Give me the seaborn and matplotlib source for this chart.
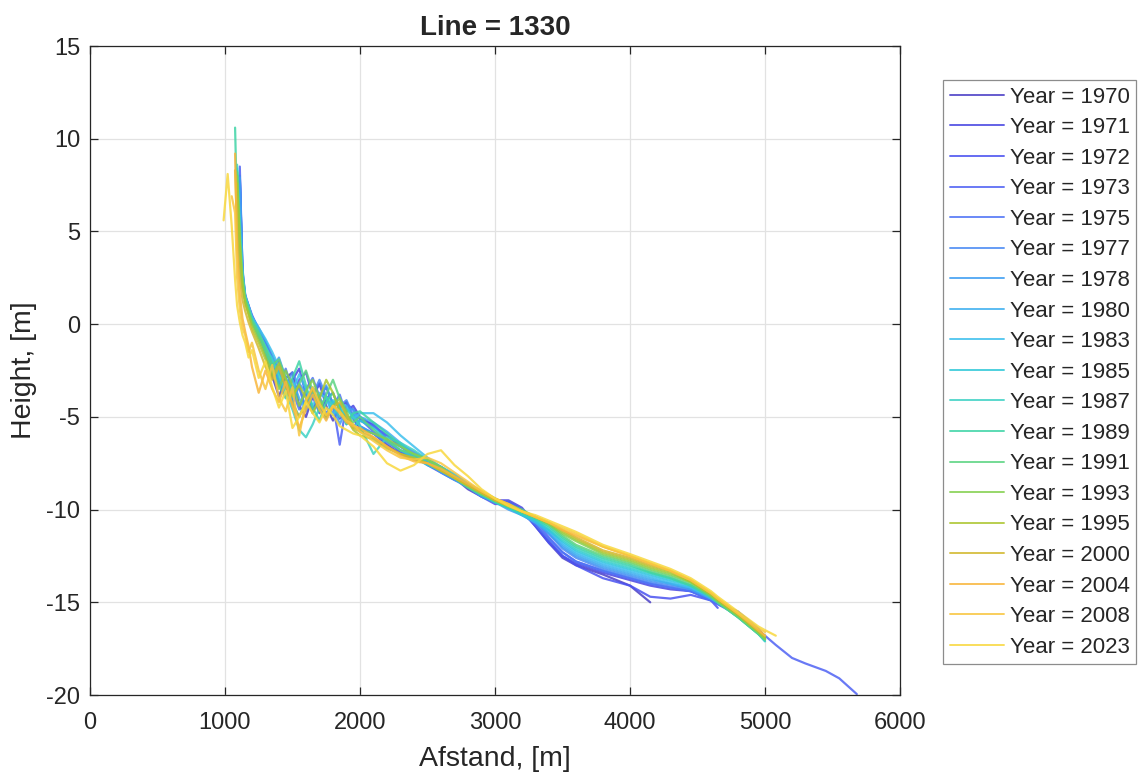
import numpy as np
import pandas as pd
import matplotlib
matplotlib.use("Agg")
import matplotlib.pyplot as plt
import seaborn as sns

nan = np.nan

# Cross-shore distance grid [m]
distance = [990, 1020, 1050, 1075, 1090, 1110, 1130, 1150, 1175, 1200,
            1250, 1300, 1350, 1400, 1450, 1500, 1550, 1600, 1650, 1700,
            1750, 1800, 1850, 1900, 1950, 2000, 2100, 2200, 2300, 2400,
            2500, 2600, 2700, 2800, 2900, 3000, 3100, 3200, 3300, 3400,
            3500, 3600, 3800, 4000, 4150, 4300, 4450, 4600, 4650, 4800,
            4950, 5000, 5080, 5200, 5300, 5450, 5550, 5680]

years = [1970, 1971, 1972, 1973, 1975, 1977, 1978, 1980, 1983, 1985,
         1987, 1989, 1991, 1993, 1995, 2000, 2004, 2008, 2023]

# Surveyed heights [m] along the distance grid (nan = not surveyed)
h1970 = [nan, nan, nan, nan, nan, 7.2, 2.4, 1.4, 0.9, 0.3,
         -0.5, -1.6, -2.8, -3.9, -2.9, -2.6, -4.4, -5.0, -3.9, -3.2,
         -4.4, -5.2, -4.5, -4.2, -5.1, -5.6, -5.9, -6.5, -7.0, -7.3,
         -7.5, -7.8, -8.3, -8.9, -9.3, -9.6, -9.6, -10.0, -10.9, -11.8,
         -12.6, -13.0, -13.5, -14.1, -15.0]
h1971 = [nan, nan, nan, nan, nan, 8.0, 2.6, 1.5, 1.0, 0.4,
         -0.3, -1.0, -1.8, -3.1, -3.9, -3.0, -2.4, -3.8, -4.6, -3.9,
         -3.4, -4.3, -5.1, -4.7, -4.4, -5.0, -5.5, -6.0, -6.6, -7.1,
         -7.6, -8.0, -8.4, -8.7, -9.1, -9.5, -9.5, -9.9, -10.8, -11.7,
         -12.5, -12.9, -13.4, -13.8, -14.1, -14.3, -14.4, -14.8, -15.0, -15.5,
         -16.4, -16.9]
h1972 = [nan, nan, nan, nan, nan, 7.8, 2.2, 1.3, 0.7, 0.2,
         -0.7, -1.4, -2.3, -2.0, -3.3, -4.2, -3.0, -2.6, -3.9, -4.8,
         -4.0, -3.7, -4.6, -5.2, -4.9, -5.1, -5.4, -6.2, -6.9, -7.3,
         -7.4, -7.7, -8.2, -8.8, -9.3, -9.7, -9.7, -10.1, -10.9, -11.8,
         -12.5, -13.0, -13.7, -14.1, -14.7, -14.8, -14.6, -14.9, -15.3]
h1973 = [nan, nan, nan, nan, nan, 8.5, 2.8, 1.6, 1.0, 0.5,
         -0.3, -1.1, -1.9, -2.6, -3.2, -4.3, -3.3, -4.6, -3.9, -3.2,
         -4.1, -4.3, -6.5, -4.3, -4.6, -5.1, -5.8, -6.3, -6.9, -7.2,
         -7.5, -7.9, -8.2, -8.6, -9.1, -9.5, -9.6, -10.0, -10.6, -11.5,
         -12.3, -12.8, -13.3, -13.7, -14.0, -14.2, -14.4, -14.9, -15.1, -15.6,
         -16.5, -16.8, -17.3, -18.0, -18.3, -18.7, -19.1, -19.95]
h1975 = [nan, nan, nan, nan, nan, 7.6, 2.5, 1.4, 0.9, 0.3,
         -0.4, -1.2, -2.0, -3.3, -2.4, -3.6, -4.6, -3.5, -2.9, -3.9,
         -4.8, -4.4, -3.8, -4.9, -5.5, -5.2, -5.5, -6.0, -6.5, -6.9,
         -7.3, -7.7, -8.2, -8.6, -9.1, -9.5, -9.8, -10.2, -10.8, -11.6,
         -12.3, -12.8, -13.3, -13.7, -14.0, -14.2, -14.4, -14.9, -15.1, -15.7,
         -16.6, -17.0]
h1977 = [nan, nan, nan, nan, nan, 8.0, 3.0, 1.5, 0.9, 0.4,
         -0.2, -0.9, -1.7, -2.4, -3.4, -2.6, -3.4, -4.7, -3.8, -3.0,
         -3.9, -4.9, -4.4, -4.1, -4.9, -5.5, -5.9, -6.4, -6.8, -7.1,
         -7.4, -7.7, -8.2, -8.7, -9.1, -9.5, -9.8, -10.2, -10.6, -11.3,
         -12.1, -12.6, -13.2, -13.6, -13.9, -14.1, -14.3, -14.8, -15.0, -15.6,
         -16.5, -16.9]
h1978 = [nan, nan, nan, nan, nan, 7.9, 2.9, 1.4, 0.8, 0.3,
         -0.5, -1.3, -2.4, -1.8, -2.9, -4.1, -3.2, -3.7, -4.8, -4.0,
         -3.3, -4.4, -5.4, -4.6, -4.6, -5.5, -5.9, -6.3, -6.6, -7.0,
         -7.5, -8.0, -8.4, -8.8, -9.3, -9.6, -10.0, -10.3, -10.7, -11.3,
         -12.0, -12.5, -13.1, -13.5, -13.8, -14.0, -14.3, -14.8, -15.0, -15.7,
         -16.6, -17.0]
h1980 = [nan, nan, nan, nan, 8.1, 4.5, 2.3, 1.3, 0.7, 0.1,
         -0.6, -1.5, -1.8, -3.0, -3.8, -3.0, -4.0, -4.6, -3.6, -4.6,
         -5.1, -4.2, -4.5, -5.4, -4.9, -5.0, -5.3, -5.8, -6.4, -7.0,
         -7.4, -7.7, -8.1, -8.6, -9.1, -9.5, -9.9, -10.3, -10.7, -11.2,
         -11.9, -12.4, -13.0, -13.4, -13.7, -14.0, -14.2, -14.8, -15.0, -15.7,
         -16.6, -17.0]
h1983 = [nan, nan, nan, nan, 8.4, 5.0, 2.6, 1.5, 1.0, 0.4,
         -0.2, -0.8, -1.5, -2.3, -2.9, -3.6, -2.7, -3.5, -4.4, -3.7,
         -4.0, -4.9, -4.3, -4.4, -5.1, -4.8, -4.8, -5.3, -6.0, -6.6,
         -7.2, -7.7, -8.1, -8.6, -9.0, -9.4, -9.8, -10.2, -10.6, -11.1,
         -11.8, -12.3, -12.9, -13.3, -13.6, -13.9, -14.2, -14.7, -15.0, -15.7,
         -16.6, -17.0]
h1985 = [nan, nan, nan, nan, 8.3, 4.8, 2.4, 1.4, 0.8, 0.2,
         -0.5, -1.2, -2.0, -2.6, -3.4, -4.2, -5.0, -4.1, -3.4, -4.3,
         -5.0, -4.1, -4.4, -5.0, -5.6, -5.2, -5.6, -6.2, -6.8, -7.2,
         -7.6, -7.9, -8.3, -8.7, -9.2, -9.6, -9.9, -10.3, -10.6, -11.1,
         -11.7, -12.2, -12.8, -13.2, -13.5, -13.8, -14.1, -14.7, -15.0, -15.8,
         -16.7, -17.1]
h1987 = [nan, nan, nan, nan, 8.6, 5.5, 2.7, 1.5, 0.9, 0.3,
         -0.4, -1.2, -1.9, -2.8, -3.7, -4.6, -5.7, -6.1, -5.4, -4.5,
         -3.9, -4.4, -5.0, -4.6, -5.0, -5.5, -7.0, -6.1, -6.4, -6.8,
         -7.3, -7.8, -8.3, -8.7, -9.1, -9.4, -9.8, -10.2, -10.5, -11.0,
         -11.6, -12.1, -12.7, -13.1, -13.4, -13.7, -14.1, -14.7, -15.0, -15.8,
         -16.7, -17.1]
h1989 = [nan, nan, nan, 10.6, 6.0, 3.2, 2.0, 1.3, 0.7, 0.1,
         -0.6, -1.5, -2.4, -3.3, -4.0, -2.9, -2.0, -3.3, -4.5, -5.2,
         -4.2, -3.7, -4.6, -5.4, -4.8, -4.7, -5.3, -5.9, -6.5, -7.1,
         -7.5, -7.9, -8.3, -8.8, -9.2, -9.6, -9.9, -10.2, -10.5, -10.9,
         -11.5, -12.0, -12.6, -13.0, -13.4, -13.7, -14.1, -14.7, -15.0, -15.8,
         -16.7, -17.0]
h1991 = [nan, nan, nan, nan, 8.2, 4.8, 2.5, 1.4, 0.8, 0.2,
         -0.5, -1.3, -2.2, -1.9, -2.9, -3.9, -3.2, -2.5, -3.6, -4.7,
         -3.8, -3.0, -4.0, -4.9, -5.3, -5.0, -5.7, -6.3, -6.8, -7.0,
         -7.3, -7.8, -8.3, -8.8, -9.2, -9.5, -9.7, -10.0, -10.4, -10.8,
         -11.4, -11.9, -12.5, -12.9, -13.3, -13.6, -14.0, -14.7, -15.0, -15.8,
         -16.7, -17.0]
h1993 = [nan, nan, nan, nan, 8.0, 4.5, 2.2, 1.2, 0.6, 0.0,
         -0.8, -1.7, -2.6, -3.5, -2.5, -3.3, -4.4, -3.6, -3.0, -4.0,
         -5.0, -4.4, -4.0, -4.7, -5.5, -5.7, -5.9, -6.2, -6.6, -7.0,
         -7.3, -7.7, -8.2, -8.7, -9.1, -9.5, -9.8, -10.1, -10.4, -10.8,
         -11.3, -11.7, -12.4, -12.8, -13.2, -13.5, -13.9, -14.6, -14.9, -15.7,
         -16.6, -17.0]
h1995 = [nan, nan, nan, nan, 7.6, 4.2, 2.0, 1.1, 0.5, -0.2,
         -1.0, -1.9, -2.8, -2.1, -3.0, -3.9, -3.3, -4.0, -4.8, -4.0,
         -3.0, -3.7, -4.7, -5.1, -5.7, -6.0, -6.2, -6.7, -7.0, -7.2,
         -7.5, -7.9, -8.3, -8.7, -9.1, -9.5, -9.8, -10.1, -10.4, -10.7,
         -11.2, -11.6, -12.3, -12.7, -13.1, -13.4, -13.9, -14.6, -14.9, -15.7,
         -16.6, -16.9]
h2000 = [nan, nan, nan, 8.3, 5.0, 2.5, 1.3, 0.7, 0.1, -0.4,
         -1.3, -2.3, -3.0, -2.3, -3.4, -4.3, -5.0, -4.2, -3.5, -4.3,
         -5.0, -4.5, -4.2, -4.9, -5.6, -5.8, -6.1, -6.6, -7.0, -7.3,
         -7.5, -7.9, -8.3, -8.7, -9.1, -9.5, -9.8, -10.1, -10.4, -10.7,
         -11.1, -11.5, -12.2, -12.6, -13.0, -13.3, -13.8, -14.5, -14.8, -15.6,
         -16.5, -16.8]
h2004 = [nan, nan, nan, 9.2, 4.0, 1.6, 0.3, -0.4, -1.2, -2.3,
         -3.7, -2.5, -3.5, -4.2, -3.1, -4.4, -5.6, -4.6, -3.8, -4.6,
         -5.2, -4.4, -4.8, -5.3, -5.5, -5.6, -6.1, -6.6, -7.1, -7.4,
         -7.5, -7.8, -8.2, -8.6, -9.0, -9.4, -9.7, -10.1, -10.4, -10.7,
         -11.1, -11.4, -12.0, -12.5, -12.9, -13.3, -13.8, -14.5, -14.8, -15.6,
         -16.5, -16.8]
h2008 = [nan, nan, 6.9, 6.0, 2.5, 0.8, -0.2, -0.6, -1.5, -1.0,
         -2.5, -3.5, -2.2, -4.0, -4.7, -3.4, -6.0, -4.1, -3.4, -4.3,
         -4.9, -4.4, -4.7, -5.2, -5.4, -5.8, -6.3, -6.8, -7.2, -7.3,
         -7.2, -7.5, -8.0, -8.5, -9.0, -9.4, -9.7, -10.1, -10.4, -10.7,
         -11.0, -11.3, -12.0, -12.5, -12.9, -13.3, -13.8, -14.5, -14.8, -15.6,
         -16.4, -16.6]
h2023 = [5.6, 8.1, 5.3, 2.4, 1.0, 0.1, -0.6, -1.0, -1.8, -1.4,
         -2.9, -2.0, -3.4, -4.5, -3.6, -5.6, -5.0, -4.2, -4.8, -5.3,
         -4.5, -4.9, -5.5, -5.7, -5.9, -6.0, -6.6, -7.5, -7.9, -7.6,
         -7.0, -6.8, -7.6, -8.2, -8.9, -9.4, -9.8, -10.1, -10.3, -10.6,
         -10.9, -11.2, -11.9, -12.4, -12.8, -13.2, -13.7, -14.4, -14.7, -15.5,
         -16.3, -16.5, -16.8]

heights = [h1970, h1971, h1972, h1973, h1975, h1977, h1978, h1980, h1983, h1985,
           h1987, h1989, h1991, h1993, h1995, h2000, h2004, h2008, h2023]

colors = ['#4b3fc6', '#4846e2', '#4a52f0', '#4f62f4', '#4f74f6', '#4a8af4',
          '#3f9ef2', '#3fb0f0', '#3dc0ee', '#2fc8d8', '#3ed2c4', '#3fd4a6',
          '#5cd482', '#84d050', '#acc630', '#d2b82e', '#f8b63c', '#f8c640',
          '#f8d83e']

rows = []
for year, hs in zip(years, heights):
    for x, h in zip(distance, hs):
        if not np.isnan(h):
            rows.append((f"Year = {year}", x, h))
df = pd.DataFrame(rows, columns=["Series", "Afstand", "Height"])

sns.set_theme(style="whitegrid")
plt.rcParams['font.family'] = ['Liberation Sans', 'DejaVu Sans']
plt.rcParams['axes.unicode_minus'] = False

fig = plt.figure(figsize=(11.43, 7.75), dpi=100)
ax = fig.add_axes([0.0787, 0.1032, 0.7087, 0.8374])

sns.lineplot(data=df, x="Afstand", y="Height", hue="Series", palette=colors,
             sort=False, estimator=None, linewidth=1.6, alpha=0.85, ax=ax)

ax.set_xlim(0, 6000)
ax.set_ylim(-20, 15)
ax.set_xticks(range(0, 6001, 1000))
ax.set_yticks(range(-20, 16, 5))
ax.grid(True, color='#e2e2e2', linewidth=0.9)
for side in ['top', 'right', 'bottom', 'left']:
    ax.spines[side].set_visible(True)
    ax.spines[side].set_color('#262626')
    ax.spines[side].set_linewidth(0.9)
ax.tick_params(direction='in', length=6, width=0.9, color='#262626',
               labelsize=17, labelcolor='#262626', top=True, right=True,
               bottom=True, left=True)
ax.tick_params(axis='x', pad=12)
ax.tick_params(axis='y', pad=7)

ax.set_title("Line = 1330", fontsize=20, fontweight='bold', pad=8)
ax.set_xlabel("Afstand, [m]", fontsize=20.5, color='#262626', labelpad=9)
ax.set_ylabel("Height, [m]", fontsize=20.5, color='#262626', labelpad=7)

handles, labels = ax.get_legend_handles_labels()
ax.get_legend().remove()
leg = fig.legend(handles, labels, loc='upper left',
                 bbox_to_anchor=(943 / 1143, 1 - 80 / 775),
                 bbox_transform=fig.transFigure, borderaxespad=0,
                 fontsize=16, frameon=True, fancybox=False, framealpha=1,
                 edgecolor='#8c8c8c', handlelength=2.45, handletextpad=0.25,
                 labelspacing=0.43, borderpad=0.3)
leg.get_frame().set_linewidth(0.9)
for line in leg.get_lines():
    line.set_linewidth(1.4)

fig.savefig("out.png", dpi=100, facecolor='white')
